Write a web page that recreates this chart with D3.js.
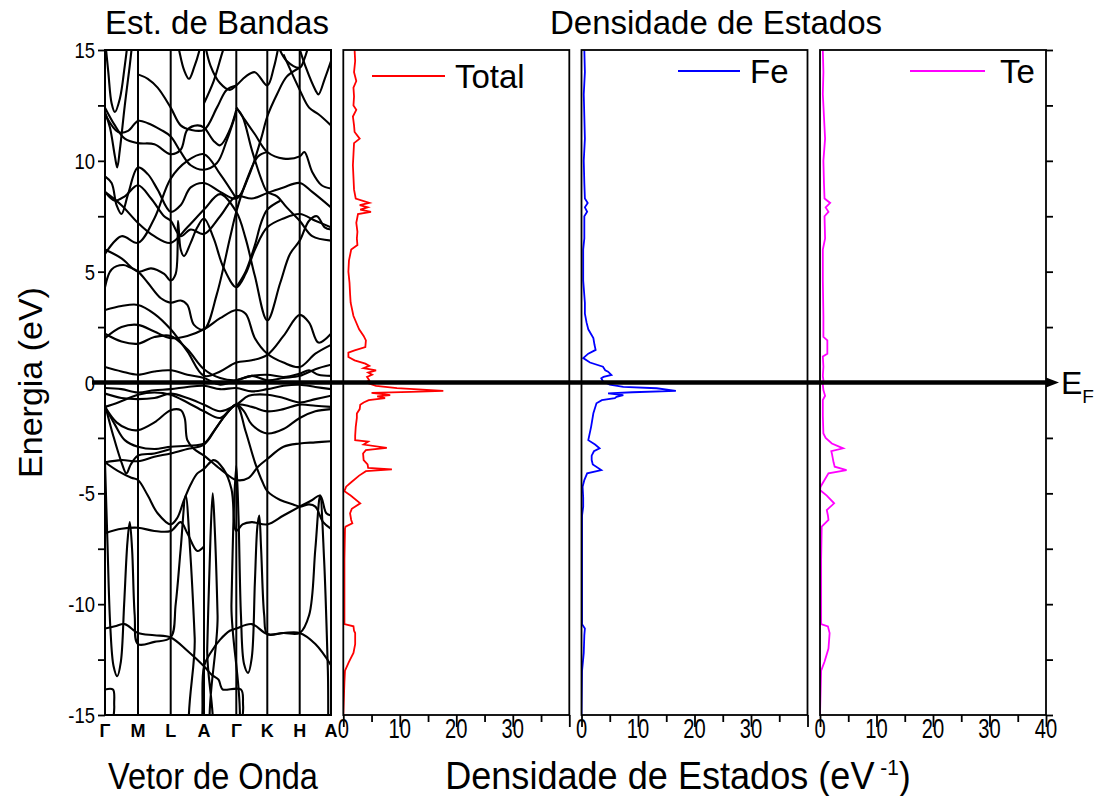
<!DOCTYPE html>
<html><head><meta charset="utf-8">
<script src="https://cdn.jsdelivr.net/npm/d3@7"></script>
<style>
body{margin:0;background:#fff}
svg text{font-family:Arial,"Liberation Sans",sans-serif;fill:#000}
</style>
</head><body>
<svg id="chart" width="1099" height="796"></svg>
<script>
// High-symmetry path of the band structure
const kLabels = ["Γ","M","L","A","Γ","K","H","A"];
const kTicks = [0,1,2,3,4,5,6,7];
const energyTicks = [-15,-10,-5,0,5,10,15];
const dosTicks = [0,10,20,30,40];

// Bands: [k, E(eV)] along Γ-M-L-A-Γ-K-H-A
const bands = [
  // deep Te-s like states
  [[0,-11.1],[0.3,-11.0],[0.6,-10.9],[1,-11.3],[1.5,-11.4],[2,-11.5],[2.5,-12.1],[3,-12.8],[3.25,-13.2],[3.45,-13.4],[3.52,-13.7],[3.58,-13.85],[4.15,-13.85],[4.22,-14.6],[4.28,-17],[7,-17]],
  [[0,-13.85],[0.24,-13.85],[0.28,-14.6],[0.33,-17],[2.88,-17],[2.95,-15],[3,-12.8],[3.2,-12.2],[3.5,-11.6],[3.8,-11.2],[4,-11.1],[4.5,-10.9],[5,-11.35],[5.5,-11.3],[6,-11.3],[6.5,-11.8],[7,-12.75]],
  [[0,-3.6],[0.07,-7],[0.16,-11],[0.26,-12.8],[0.37,-13.25],[0.48,-12.6],[0.58,-10],[0.68,-7.2],[0.75,-6.3],[0.82,-7.5],[0.9,-10.5],[1,-11.8],[1.5,-11.7],[2,-11.5],[2.15,-10],[2.3,-7.5],[2.45,-5.1],[2.58,-7.5],[2.72,-11.5],[2.85,-17],[7,-17]],
  [[0,-17],[3.02,-17],[3.1,-12],[3.2,-7],[3.27,-5.0],[3.33,-6.5],[3.42,-10.5],[3.5,-17],[7,-17]],
  [[0,-17],[3.75,-17],[3.85,-10],[3.93,-5.5],[4,-3.75],[4.07,-6],[4.15,-10.5],[4.25,-12.7],[4.38,-13.1],[4.5,-12.4],[4.6,-9],[4.68,-6.5],[4.74,-6.0],[4.8,-7.5],[4.9,-10.5],[5,-11.35],[5.5,-11.3],[6,-11.3],[6.3,-10.5],[6.5,-7.5],[6.65,-5.1],[6.78,-8],[6.9,-13],[6.97,-17],[7,-17]],
  // valence manifold
  [[0,-1.1],[0.35,-1.8],[0.7,-2.1],[1,-2.15],[1.5,-1.8],[2,-1.25],[2.3,-1.25],[2.42,-1.6],[2.5,-2.6],[2.7,-3.0],[3,-3.3],[3.5,-3.9],[4,-4.4],[4.4,-4.3],[4.7,-3.8],[5,-3.45],[5.5,-2.9],[6,-2.75],[6.5,-2.7],[7,-2.65]],
  [[0,-1.1],[0.3,-1.9],[0.6,-2.6],[1,-2.9],[1.5,-3.0],[2,-2.9],[2.5,-2.85],[3,-2.75],[3.3,-2.2],[3.65,-1.5],[4,-1.0],[4.3,-2.2],[4.6,-3.6],[4.85,-4.5],[5,-4.9],[5.4,-5.3],[5.8,-5.5],[6,-5.6],[6.3,-5.5],[6.5,-5.6],[6.75,-6.3],[7,-6.6]],
  [[0,-3.6],[0.5,-3.5],[1,-3.55],[1.5,-3.35],[2,-3.2],[2.5,-3.0],[3,-2.8],[3.4,-2.0],[3.75,-1.3],[4,-1.0],[4.25,-1.3],[4.5,-1.9],[5,-2.3],[5.5,-2.1],[6,-1.6],[6.5,-1.3],[7,-1.2]],
  [[0,-3.6],[0.4,-4.0],[0.8,-4.3],[1,-4.4],[1.3,-5.1],[1.6,-5.9],[2,-6.4],[2.2,-6.1],[2.4,-5.3],[2.6,-4.6],[2.8,-4.1],[3,-3.9],[3.3,-3.5],[3.6,-3.9],[3.85,-4.8],[4,-6.7],[4.2,-6.4],[4.5,-6.3],[5,-6.4],[5.5,-6.0],[6,-5.6],[6.4,-5.3],[6.65,-5.1],[6.85,-5.9],[7,-6.0]],
  [[0,-6.8],[0.5,-6.6],[1,-6.55],[1.5,-6.7],[2,-6.7],[2.3,-6.3],[2.5,-6.8],[2.8,-7.6],[3,-7.4]],
  [[0,-1.0],[0.25,-2.4],[0.5,-3.6],[0.65,-4.1],[0.78,-3.7],[1,-3.3],[1.5,-3.2],[2,-3.0]],
  // around the Fermi level
  [[0,-0.25],[0.5,-0.3],[1,-0.45],[1.5,-0.35],[2,-0.3],[2.5,-0.2],[3,-0.15],[3.5,-0.3],[4,-0.25],[4.5,-0.4],[5,-0.3],[5.5,-0.15],[6,-0.1],[6.5,-0.2],[7,-0.3]],
  [[0,-0.5],[0.5,-0.7],[1,-0.75],[1.5,-0.7],[2,-0.5],[2.5,-0.7],[3,-1.0],[3.5,-1.3],[4,-1.0],[4.4,-0.6],[5,-0.55],[5.5,-0.7],[6,-0.9],[6.5,-0.75],[7,-0.6]],
  [[0,-1.1],[0.4,-0.9],[1,-0.55],[1.5,-0.45],[2,-0.55],[2.5,-0.9],[3,-1.3],[3.5,-1.6],[4,-1.0],[4.5,-1.1],[5,-1.3],[5.5,-1.2],[6,-1.0],[6.5,-1.05],[7,-1.1]],
  [[0,0.7],[0.5,0.5],[1,0.35],[1.5,0.5],[2,0.55],[2.5,0.35],[3,0.2],[3.5,-0.1],[4,0.1],[4.5,0.3],[5,0.35],[5.5,0.25],[6,0.4],[6.3,0.55],[6.6,0.35],[7,0.3]],
  // conduction manifold
  [[0,2.2],[0.5,1.85],[1,1.75],[1.5,2.05],[2,2.1],[2.5,1.5],[3,0.6],[3.5,0.2],[4,0.1],[4.5,0.3],[5,0.1],[5.5,0.2],[6,0.3],[6.5,0.6],[7,0.8]],
  [[0,3.27],[0.5,3.45],[1,3.5],[1.5,3.1],[2,2.4],[2.5,1.4],[3,0.3],[3.5,0.5],[4,0.9],[4.5,1.0],[5,1.25],[5.5,2.1],[6,3.05],[6.3,2.7],[6.6,1.8],[7,2.2]],
  [[0,2.0],[0.5,2.5],[1,2.6],[1.5,2.3],[2,2.0],[2.5,2.1],[3,2.4],[3.5,2.9],[4,3.27],[4.3,3.1],[4.6,2.0],[5,1.3],[5.5,0.9],[6,0.7],[6.5,1.3],[7,1.7]],
  [[0,4.3],[0.2,5.1],[0.55,5.3],[0.75,5.2],[1,5.0],[1.3,4.5],[1.7,3.8],[2,3.6],[2.3,3.7],[2.5,3.5],[2.7,2.6],[3,2.4],[3.4,4.0],[3.8,6.5],[4,7.7],[4.3,9.0],[4.7,10.2],[5,10.4]],
  [[0,6.0],[0.5,5.6],[1,5.0],[1.4,5.15],[1.8,4.9],[2,4.6],[2.15,4.9],[2.22,7.3],[2.3,6.0],[2.4,5.7],[2.6,6.3],[2.8,7.0],[3,7.4],[3.3,6.5],[3.6,5.2],[4,4.3],[4.3,4.9],[4.6,6.0],[5,7.0],[5.5,7.4],[6,7.6],[6.5,7.3],[7,7.0]],
  [[0,8.6],[0.5,8.0],[1,7.2],[1.5,6.6],[2,6.3],[2.5,7.0],[3,7.8],[3.5,8.5],[4,7.7],[4.3,6.5],[4.6,4.8],[5,2.8],[5.4,4.5],[5.7,5.8],[6,6.4],[6.3,7.3],[6.55,7.5],[6.8,7.0],[7,6.9]],
  [[0,5.8],[0.5,6.6],[1,6.3],[1.5,7.4],[2,9.2],[2.5,10.0],[3,10.3],[3.5,9.4],[4,8.3]],
  // upper bands
  [[0,12.2],[0.15,11.5],[0.3,10.2],[0.37,9.7],[0.45,10.5],[0.6,12.5],[0.75,14.3],[0.85,15.5],[1,16.5]],
  [[0,12.4],[0.3,11.6],[0.6,11.0],[1,10.8],[1.5,10.75],[2,10.3],[2.3,10.5],[2.5,11.4],[2.8,11.6],[3,11.5],[3.3,10.9],[3.5,10.7],[3.8,11.4],[4,12.3]],
  [[0,12.1],[0.4,11.3],[0.7,11.35],[1,11.8],[1.3,11.7],[1.7,11.4],[2,11.1],[2.3,10.4],[2.6,9.8],[3,9.6],[3.4,9.9],[3.7,10.9],[4,12.2]],
  [[0,9.3],[0.2,9.0],[0.35,8.0],[0.5,7.6],[0.7,8.5],[1,9.7],[1.3,9.4],[1.6,8.7],[2,7.7],[2.3,8.0],[2.6,8.8],[3,9.0],[3.5,8.6],[4,8.3],[4.4,9.3],[4.8,11.0],[5,12.0],[5.3,13.0],[5.6,13.8],[6,14.2]],
  [[0,8.6],[0.3,8.2],[0.6,8.4],[1,8.9],[1.4,8.3],[1.8,7.5],[2,7.3],[2.3,6.6],[2.6,6.9],[3,6.7],[3.5,7.5],[4,8.4],[4.5,8.3],[5,8.55],[5.5,8.8],[6,9.0],[6.4,8.6],[7,7.9]],
  [[1,13.9],[1.3,13.7],[1.6,13.3],[2,12.4],[2.3,11.6],[2.6,11.4],[3,11.4],[3.4,12.4],[3.7,13.2],[4,13.4]],
  [[2,16.5],[2.22,15.2],[2.4,14.1],[2.55,13.7],[2.7,14.2],[2.9,15.2],[3,16]],
  [[3,15.5],[3.2,14.3],[3.5,13.5],[3.8,13.2],[4,13.4],[4.3,13.8],[4.6,14.0],[5,13.4],[5.2,14.2],[5.35,15.2]],
  [[4,12.4],[4.3,11.8],[4.6,11.2],[5,10.4],[5.5,10.1],[6,10.2],[6.15,10.4],[6.4,9.5],[6.7,8.9],[7,8.75]],
  [[4,12.4],[4.2,12.0],[4.5,10.5],[4.8,9.2],[5,8.6],[5.3,8.4],[5.6,7.9],[6,7.3],[6.4,6.6],[7,6.4]],
  [[5.3,15.3],[5.6,14.5],[6,14.2],[6.15,14.6],[6.3,15.3]],
  [[5.9,15.5],[6.2,14.2],[6.5,13.2],[6.6,13.0],[6.8,13.7],[7,14.5]],
  [[5.5,14.8],[6,13.2],[6.3,12.4],[6.6,12.1],[7,11.6]],
  [[0,15.5],[0.1,14.0],[0.2,12.6],[0.3,12.2],[0.45,12.8],[0.6,14.3],[0.7,15.5]],
  [[3,12.6],[3.3,13.6],[3.55,14.8],[3.7,15.5]],
  [[4,4.3],[4.3,5.0],[4.6,6.2],[4.8,7.2],[5,7.8],[5.4,8.2]]
];

// Projected densities of states: [E(eV), DOS(states/eV)]
const dosTotal = [[15,2.0],[14.5,2.1],[14.0,1.9],[13.6,2.3],[13.3,1.8],[12.9,1.9],[12.5,1.8],[12.3,2.3],[12.0,1.7],[11.6,1.9],[11.3,2.0],[11.0,2.9],[10.8,1.9],[10.3,1.8],[9.8,1.7],[9.25,1.8],[8.7,1.9],[8.3,2.2],[8.1,4.6],[8.0,2.9],[7.9,4.3],[7.8,3.0],[7.7,4.9],[7.6,2.6],[7.2,2.3],[6.8,2.5],[6.5,2.4],[6.2,2.5],[6.0,1.4],[5.5,1.0],[5.0,0.9],[4.5,1.1],[4.0,1.2],[3.6,1.3],[3.0,1.8],[2.4,2.8],[2.1,3.6],[1.9,4.0],[1.6,3.9],[1.45,2.0],[1.35,0.9],[1.15,0.9],[1.0,2.0],[0.85,3.9],[0.75,4.6],[0.65,3.6],[0.55,5.8],[0.45,4.4],[0.35,5.1],[0.25,4.2],[0.1,4.6],[0,4.0],[-0.15,5.8],[-0.25,9.5],[-0.32,14.0],[-0.38,17.7],[-0.42,12.0],[-0.47,5.0],[-0.52,7.0],[-0.57,8.3],[-0.63,6.0],[-0.7,7.4],[-0.8,4.5],[-0.9,3.6],[-1.0,3.0],[-1.2,2.9],[-1.4,2.4],[-1.6,2.4],[-2.0,2.2],[-2.4,2.1],[-2.6,2.1],[-2.67,4.4],[-2.8,3.6],[-2.95,7.7],[-3.05,4.0],[-3.2,3.5],[-3.5,3.6],[-3.7,4.3],[-3.85,4.4],[-3.92,8.6],[-4.0,4.0],[-4.2,2.8],[-4.5,1.4],[-4.7,0.5],[-4.9,0.2],[-5.1,1.3],[-5.45,3.0],[-5.7,1.5],[-5.9,1.2],[-6.2,1.4],[-6.35,1.6],[-6.5,0.4],[-6.6,0.3],[-8,0.2],[-10.9,0.2],[-11.0,1.8],[-11.2,1.9],[-11.3,2.1],[-11.8,2.1],[-12.2,1.8],[-12.6,1.0],[-13.0,0.3],[-13.5,0.2],[-15,0.0]];
const dosFe = [[15,0.5],[14,0.6],[13,0.4],[12,0.5],[11,0.6],[10,0.4],[9,0.5],[8.3,0.6],[8.1,1.1],[7.9,0.6],[7.7,1.0],[7.5,0.5],[6.5,0.5],[6,0.3],[5,0.3],[4.6,0.3],[3.6,0.6],[3.1,0.6],[2.7,0.9],[2.4,1.2],[2.0,2.1],[1.7,2.3],[1.47,2.5],[1.3,1.2],[1.1,0.3],[0.9,1.5],[0.71,3.8],[0.55,4.2],[0.49,4.7],[0.34,5.3],[0.25,3.9],[0.19,3.5],[0.05,3.8],[-0.1,5.0],[-0.2,7.4],[-0.26,13.3],[-0.38,16.7],[-0.44,9],[-0.49,4.7],[-0.57,7.4],[-0.65,6.2],[-0.71,5.9],[-0.8,3.6],[-0.94,2.65],[-1.39,2.1],[-2.0,1.7],[-2.6,1.2],[-2.8,2.4],[-2.97,3.2],[-3.1,2.2],[-3.3,1.8],[-3.5,1.8],[-3.7,2.0],[-3.95,3.5],[-4.1,1.0],[-4.4,0.5],[-4.7,0.2],[-5.2,0.3],[-5.6,0.3],[-6,0.1],[-8,0.1],[-10.9,0.1],[-11.1,0.6],[-11.4,0.5],[-12.2,0.4],[-13,0.1],[-15,0]];
const dosTe = [[15,0.5],[14,0.6],[13,0.5],[12,0.7],[11,0.9],[10,0.6],[9,0.7],[8.3,0.8],[8.1,1.8],[7.9,1.0],[7.7,1.5],[7.5,0.8],[6.5,0.9],[6,0.5],[5,0.5],[4.6,0.5],[3,0.6],[2.06,0.6],[1.9,1.3],[1.3,1.3],[1.17,0.5],[0.71,0.6],[0.3,0.5],[0.1,0.6],[-0.1,0.5],[-0.34,0.6],[-0.6,0.9],[-0.79,0.5],[-1.5,0.5],[-2.3,0.6],[-2.5,1.0],[-2.75,2.1],[-2.97,4.1],[-3.1,2.0],[-3.2,2.1],[-3.6,2.4],[-3.8,2.6],[-3.95,4.7],[-4.1,1.5],[-4.4,0.8],[-4.7,0.1],[-4.85,0],[-5.1,1.2],[-5.45,2.5],[-5.75,1.2],[-6.0,1.4],[-6.2,1.5],[-6.5,0.3],[-8,0.2],[-10.9,0.2],[-11.0,1.4],[-11.3,1.7],[-12,1.5],[-12.6,0.8],[-13,0.2],[-15,0]];

const seriesNames = ["Total","Fe","Te"];
const seriesColors = ["#ff0000","#0000ff","#ff00ff"];
const seriesData = [dosTotal, dosFe, dosTe];

const svg = d3.select("#chart");
const yTop = 50, yBottom = 715;
const y = d3.scaleLinear().domain([-15,15]).range([yBottom, yTop]);

// condensed text: horizontal squeeze around the anchor point
function squeezed(parent, x, yy, sx, size, anchor, txt){
  return parent.append("text")
    .attr("transform",`translate(${x},${yy}) scale(${sx},1)`)
    .attr("text-anchor",anchor).style("font-size",size+"px").text(txt);
}

// ---- band structure panel ----
const bandL = 105, bandR = 331;
const kx = d3.scaleLinear().domain(kTicks).range([105,138,170.7,204,236.3,267.3,299.7,331]);

svg.append("defs").append("clipPath").attr("id","clipBand")
  .append("rect").attr("x",bandL).attr("y",yTop).attr("width",bandR-bandL).attr("height",yBottom-yTop);

const bandLine = d3.line().x(d=>kx(d[0])).y(d=>y(d[1])).curve(d3.curveCatmullRom.alpha(0.5));
const bg = svg.append("g").attr("clip-path","url(#clipBand)");
bg.selectAll("path.band").data(bands).join("path").attr("class","band")
  .attr("d",bandLine).attr("fill","none").attr("stroke","#000").attr("stroke-width",2.1);

// high-symmetry verticals
svg.append("g").selectAll("line").data(kTicks.slice(1,-1)).join("line")
  .attr("x1",d=>kx(d)).attr("x2",d=>kx(d)).attr("y1",yTop).attr("y2",yBottom)
  .attr("stroke","#000").attr("stroke-width",2);

svg.append("rect").attr("x",bandL).attr("y",yTop).attr("width",bandR-bandL).attr("height",yBottom-yTop)
  .attr("fill","none").attr("stroke","#000").attr("stroke-width",2);

// energy axis (ticks every 2.5 eV, labels every 5 eV)
const minor = d3.range(-15,15.01,2.5);
const yAxis = d3.axisLeft(y).tickValues(minor).tickSize(7).tickFormat("");
const ya = svg.append("g").attr("transform",`translate(${bandL},0)`).call(yAxis);
ya.select(".domain").remove();
ya.selectAll(".tick line").attr("stroke-width",1.8);
const yLab = svg.append("g");
energyTicks.forEach(v => squeezed(yLab, 95, y(v)+8, 0.84, 22, "end", v));

// k labels
svg.append("g").selectAll("text").data(kTicks).join("text")
  .attr("x",d=>kx(d)).attr("y",737).attr("text-anchor","middle")
  .style("font-size","18px").style("font-weight","bold").text((d,i)=>kLabels[i]);

// ---- DOS panels ----
const panelW = 226;
const panelLeft = [343.3, 581.5, 820];
const legendLine = [[372,445],[678,740],[910,985]];
const legendText = [455, 750, 1000];
const legendY = [76, 71, 71];
panelLeft.forEach((left,i)=>{
  const x = d3.scaleLinear().domain([0,40]).range([left,left+panelW]);
  svg.append("defs").append("clipPath").attr("id","clipDos"+i)
    .append("rect").attr("x",left).attr("y",yTop).attr("width",panelW).attr("height",yBottom-yTop);
  const line = d3.line().x(d=>x(d[1])).y(d=>y(d[0]));
  svg.append("path").datum(seriesData[i]).attr("clip-path",`url(#clipDos${i})`)
    .attr("d",line).attr("fill","none").attr("stroke",seriesColors[i]).attr("stroke-width",1.8);
  svg.append("rect").attr("x",left).attr("y",yTop).attr("width",panelW).attr("height",yBottom-yTop)
    .attr("fill","none").attr("stroke","#000").attr("stroke-width",1.8);
  // bottom axis: major + minor ticks
  const ax = d3.axisBottom(x).tickValues(d3.range(0,40.01,5)).tickSize(0).tickFormat("");
  const g = svg.append("g").attr("transform",`translate(0,${yBottom})`).call(ax);
  g.select(".domain").remove();
  g.selectAll(".tick").append("line").attr("y2",d=>d%10===0?12:7).attr("stroke","#000").attr("stroke-width",1.8);
  const labels = i===2 ? dosTicks : dosTicks.slice(0,-1);
  labels.forEach(v => squeezed(svg, x(v), 738, 0.72, 28, "middle", v));
  // legend
  svg.append("line").attr("x1",legendLine[i][0]).attr("x2",legendLine[i][1])
    .attr("y1",legendY[i]).attr("y2",legendY[i])
    .attr("stroke",seriesColors[i]).attr("stroke-width",1.8);
  svg.append("text").attr("x",legendText[i]).attr("y",legendY[i]+12).style("font-size","33px").text(seriesNames[i]);
  // right-hand energy ticks on the last panel
  if(i===2){
    const ra = d3.axisRight(y).tickValues(minor).tickSize(7).tickFormat("");
    const r = svg.append("g").attr("transform",`translate(${left+panelW},0)`).call(ra);
    r.select(".domain").remove();
    r.selectAll(".tick line").attr("stroke-width",1.8);
  }
});

// Fermi level
const ef = y(0);
svg.append("line").attr("x1",92).attr("x2",1050).attr("y1",ef).attr("y2",ef)
  .attr("stroke","#000").attr("stroke-width",4.5);
svg.append("path").attr("d",`M1046,${ef-5}L1059,${ef}L1046,${ef+5}Z`).attr("fill","#000");
const efT = svg.append("text").attr("x",1061).attr("y",ef+11).style("font-size","32px");
efT.append("tspan").text("E");
efT.append("tspan").attr("dy",9).style("font-size","19px").text("F");

// titles
svg.append("text").attr("x",217).attr("y",34).attr("text-anchor","middle").style("font-size","33px").text("Est. de Bandas");
svg.append("text").attr("x",716).attr("y",34).attr("text-anchor","middle").style("font-size","33px").text("Densidade de Estados");
svg.append("text").attr("transform",`translate(42,${(yTop+yBottom)/2}) rotate(-90)`).attr("text-anchor","middle")
  .style("font-size","34px").text("Energia (eV)");
squeezed(svg, 213, 789, 0.88, 37, "middle", "Vetor de Onda");
const xl = squeezed(svg, 678, 789, 0.95, 38, "middle", "Densidade de Estados (eV");
xl.append("tspan").attr("dy",-14).style("font-size","22px").text(" -1");
xl.append("tspan").attr("dy",14).text(")");
</script>
</body></html>
